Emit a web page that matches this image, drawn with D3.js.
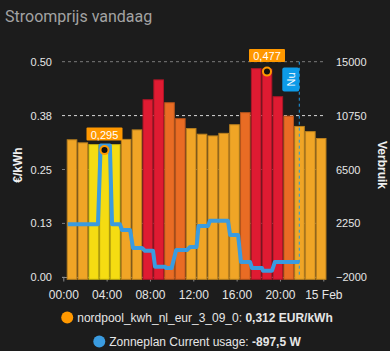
<!DOCTYPE html>
<html>
<head>
<meta charset="utf-8">
<script src="https://cdn.jsdelivr.net/npm/d3@7"></script>
<style>
  body { margin: 0; background: #1c1c1c; }
  svg { display: block; }
</style>
</head>
<body>
<div id="chart"></div>
<script>
// hourly prices (EUR/kWh)
var priceHours = ["00:00","01:00","02:00","03:00","04:00","05:00","06:00","07:00","08:00","09:00","10:00","11:00",
                  "12:00","13:00","14:00","15:00","16:00","17:00","18:00","19:00","20:00","21:00","22:00","23:00"];
var prices = [0.320,0.313,0.309,0.295,0.309,0.321,0.343,0.413,0.459,0.406,0.369,0.346,
              0.333,0.329,0.335,0.355,0.383,0.485,0.484,0.420,0.375,0.351,0.339,0.323];

// current usage (W)
var usageTimes = ["00:25","03:12","03:27","04:18","04:30","05:14","05:25","06:10","06:26","07:16","07:32","08:17",
                  "08:28","09:23","09:30","10:00","10:25","11:25","11:42","12:18","12:29","13:22","13:32","15:12",
                  "15:24","16:08","16:24","17:14","17:25","18:20","18:26","19:16","19:32","21:47"];
var usageValues = [2180,2180,8400,8400,2180,2180,1730,1730,310,310,100,100,
                   -1160,-1160,-1270,-1270,150,150,390,390,2050,2050,2460,2460,
                   1340,1340,-790,-790,-1270,-1270,-1480,-1480,-790,-790];

var xTickTimes = ["00:00","04:00","08:00","12:00","16:00","20:00","24:00"];
var leftTicks = [0, 0.125, 0.25, 0.375, 0.5];
var rightTicks = [-2000, 2250, 6500, 10750, 15000];

var minPoint = {time: "03:00", value: 0.295};
var maxPoint = {time: "18:00", value: 0.477};
var nowTime = "21:47";

var legendNames = ["nordpool_kwh_nl_eur_3_09_0: ", "Zonneplan Current usage: "];
var legendValues = ["0,312 EUR/kWh", "-897,5 W"];

var W = 390, H = 351;
var day = new Date(2024, 1, 14);
function t(s) {
  var p = s.split(":");
  return new Date(2024, 1, 14, +p[0], +p[1]);
}

var x = d3.scaleTime().domain([day, d3.timeDay.offset(day, 1)]).range([63.3, 323.3]);
var yL = d3.scaleLinear().domain([0, 0.5]).range([277.3, 61.7]);
var yR = d3.scaleLinear().domain([-2000, 15000]).range([277.3, 61.7]);
var plotLeft = 62, plotRight = 326;

var priceColor = d3.scaleThreshold()
  .domain([0.31, 0.36, 0.41])
  .range(["#f5dc12", "#f0a526", "#e96c24", "#df1b32"]);

var font = "'Liberation Sans', Arial, sans-serif";

var svg = d3.select("#chart").append("svg")
    .attr("width", W)
    .attr("height", H);

svg.append("rect").attr("width", W).attr("height", H).attr("fill", "#1c1c1c");

svg.append("text")
    .attr("x", 5).attr("y", 22)
    .attr("font-family", "Roboto, sans-serif")
    .attr("font-size", 16)
    .attr("fill", "#a3a3a3")
    .text("Stroomprijs vandaag");

// grid
svg.append("g").selectAll("line")
    .data(leftTicks)
    .enter().append("line")
    .attr("x1", plotLeft).attr("x2", plotRight)
    .attr("y1", function(d) { return yL(d); })
    .attr("y2", function(d) { return yL(d); })
    .attr("stroke", function(d) { return d == 0.375 ? "#d8d8d8" : "#7a7a7a"; })
    .attr("stroke-dasharray", "3,3")
    .attr("stroke-width", 1);

// x axis line + ticks
svg.append("line")
    .attr("x1", plotLeft).attr("x2", plotRight)
    .attr("y1", 277.5).attr("y2", 277.5)
    .attr("stroke", "#8a8a8a");

var xAxis = d3.axisBottom(x)
    .tickValues(xTickTimes.map(function(s) { return s == "24:00" ? d3.timeDay.offset(day, 1) : t(s); }))
    .tickSize(4)
    .tickPadding(9)
    .tickFormat(function(d) { return d.getDate() == 15 ? "15 Feb" : d3.timeFormat("%H:%M")(d); });

var gx = svg.append("g")
    .attr("transform", "translate(0,277.5)")
    .call(xAxis);
gx.select(".domain").remove();
gx.selectAll("line").attr("stroke", "#8a8a8a");
gx.selectAll("text").attr("fill", "#e6e6e6").attr("font-family", font).attr("font-size", 12);

// bars
svg.append("g").selectAll("rect")
    .data(prices)
    .enter().append("rect")
    .attr("x", function(d, i) { return x(t(priceHours[i])) + 3.9; })
    .attr("width", 9.6)
    .attr("y", function(d) { return yL(d) + 0.5; })
    .attr("height", function(d) { return yL(0) + 1.5 - yL(d); })
    .attr("fill", function(d) { return priceColor(d); })
    .attr("stroke", function(d) { return d3.color(priceColor(d)).darker(0.7); })
    .attr("stroke-width", 1);

// usage line
var usage = usageTimes.map(function(s, i) { return {date: t(s), value: usageValues[i]}; });
var line = d3.line()
    .x(function(d) { return x(d.date); })
    .y(function(d) { return yR(d.value); });

svg.append("path")
    .datum(usage)
    .attr("d", line)
    .attr("fill", "none")
    .attr("stroke", "#3a9be0")
    .attr("stroke-width", 4)
    .attr("stroke-linejoin", "round");

// left axis
var gl = svg.append("g")
    .attr("transform", "translate(" + plotLeft + ",0)")
    .call(d3.axisLeft(yL).tickValues(leftTicks).tickSize(0).tickPadding(10).tickFormat(d3.format(".2f")));
gl.select(".domain").remove();
gl.selectAll("text").attr("fill", "#e6e6e6").attr("font-family", font).attr("font-size", 11);

// right axis
var gr = svg.append("g")
    .attr("transform", "translate(" + plotRight + ",0)")
    .call(d3.axisRight(yR).tickValues(rightTicks).tickSize(0).tickPadding(10).tickFormat(d3.format("d")));
gr.select(".domain").remove();
gr.selectAll("text").attr("fill", "#e6e6e6").attr("font-family", font).attr("font-size", 11);

// axis titles
svg.append("text")
    .attr("transform", "translate(22,165) rotate(-90)")
    .attr("text-anchor", "middle")
    .attr("font-family", font).attr("font-size", 12).attr("font-weight", "bold")
    .attr("fill", "#f0f0f0")
    .text("€/kWh");

svg.append("text")
    .attr("transform", "translate(378,165) rotate(90)")
    .attr("text-anchor", "middle")
    .attr("font-family", font).attr("font-size", 12).attr("font-weight", "bold")
    .attr("fill", "#f0f0f0")
    .text("Verbruik");

// now annotation
var xn = x(t(nowTime));
svg.append("line")
    .attr("x1", xn).attr("x2", xn)
    .attr("y1", yR(15000)).attr("y2", 277.5)
    .attr("stroke", "#1e9be6")
    .attr("stroke-dasharray", "3,3");
svg.append("rect")
    .attr("x", xn - 17).attr("y", 67.5)
    .attr("width", 17).attr("height", 24)
    .attr("rx", 2)
    .attr("fill", "#0d9be8");
svg.append("text")
    .attr("transform", "translate(" + (xn - 8.5) + ",79.5) rotate(-90)")
    .attr("text-anchor", "middle")
    .attr("dy", "0.35em")
    .attr("font-family", font).attr("font-size", 11)
    .attr("fill", "#fff")
    .text("Nu");

// min / max price points
var fmtPrice = function(v) { return d3.format(".3f")(v).replace(".", ","); };
[minPoint, maxPoint].forEach(function(p) {
  var cx = x(t(p.time)) + 3.9 + 4.8;
  var cy = yL(p.value);
  svg.append("rect")
      .attr("x", cx - 18).attr("y", cy - 22.5)
      .attr("width", 36).attr("height", 13)
      .attr("rx", 1)
      .attr("fill", "#ff9800");
  svg.append("text")
      .attr("x", cx).attr("y", cy - 11.5)
      .attr("text-anchor", "middle")
      .attr("font-family", font).attr("font-size", 11)
      .attr("fill", "#fff")
      .text(fmtPrice(p.value));
  svg.append("circle")
      .attr("cx", cx).attr("cy", cy)
      .attr("r", 4)
      .attr("fill", "#111")
      .attr("stroke", "#ff9800")
      .attr("stroke-width", 2);
});

// legend
var legendColors = ["#ff9800", "#3a9be0"];
legendNames.forEach(function(name, i) {
  var g = svg.append("g");
  var ty = 322 + i * 24;
  var txt = g.append("text")
      .attr("y", ty)
      .attr("font-family", font).attr("font-size", 12)
      .attr("fill", "#e6e6e6");
  txt.append("tspan").text(name);
  txt.append("tspan").attr("font-weight", "bold").text(legendValues[i]);
  var w = txt.node().getComputedTextLength();
  var total = 12 + 4 + w;
  var start = 197 - total / 2;
  g.append("circle")
      .attr("cx", start + 6).attr("cy", ty - 4.5)
      .attr("r", 6)
      .attr("fill", legendColors[i]);
  txt.attr("x", start + 16);
});
</script>
</body>
</html>
